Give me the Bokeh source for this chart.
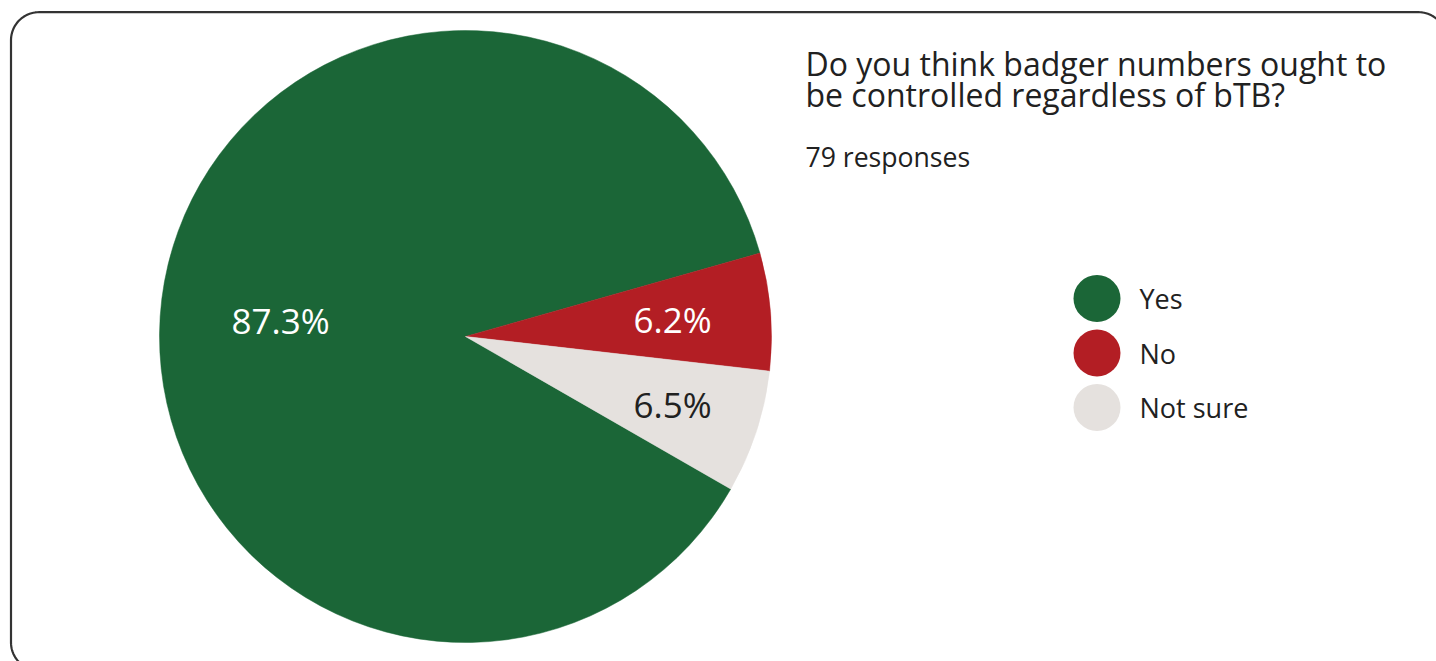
import numpy as np
from bokeh.plotting import figure
from bokeh.models import Range1d
from bokeh.core.properties import value
from bokeh.embed import file_html
from bokeh.resources import INLINE

# ---- data ----
categories = ["Yes", "No", "Not sure"]
percents = [87.3, 6.2, 6.5]
colors = ["#1b6637", "#b31e24", "#e5e1de"]
label_colors = ["#ffffff", "#ffffff", "#212121"]
title_lines = ["Do you think badger numbers ought to", "be controlled regardless of bTB?"]
subtitle = "79 responses"

# ---- layout ----
W, H = 1436, 661
FONT = value("Open Sans")
TXT = "#212121"

p = figure(width=W, height=H, output_backend="svg", toolbar_location=None,
           x_range=Range1d(0, W), y_range=Range1d(0, H), min_border=0)
p.axis.visible = False
p.grid.visible = False
p.outline_line_color = None
p.background_fill_color = "white"
p.border_fill_color = "white"

# rounded border (extends beyond right/bottom edges like the reference)
L, R, T, B, rad = 10.5, 1446.0, 649.3, -9.0, 28.0
def arc(cx, cy, a0, a1):
    t = np.linspace(np.radians(a0), np.radians(a1), 24)
    return cx + rad * np.cos(t), cy + rad * np.sin(t)
xs, ys = [], []
for cx, cy, a0, a1 in [(L + rad, T - rad, 90, 180), (L + rad, B + rad, 180, 270),
                       (R - rad, B + rad, 270, 360), (R - rad, T - rad, 0, 90)]:
    ax, ay = arc(cx, cy, a0, a1)
    xs.extend(ax); ys.extend(ay)
xs.append(xs[0]); ys.append(ys[0])
p.line(xs, ys, line_color="#333333", line_width=2.2)

# pie
cx, cy, r = 465.0, 325.0, 306.0
start_deg = -29.9
frac = np.array(percents) / sum(percents)
cum = np.concatenate([[0], np.cumsum(frac)])
bounds = np.radians(start_deg) - 2 * np.pi * cum
p.wedge(x=cx, y=cy, radius=r, start_angle=bounds[1:], end_angle=bounds[:-1],
        fill_color=colors, line_color=colors, line_width=0.5)

# percent labels
label_x = [280, 672, 672]
label_y = [341, 342.3, 257.3]
p.text(x=label_x, y=label_y, text=[f"{v:.1f}%" for v in percents],
       text_color=label_colors, text_font=FONT, text_font_size="35px",
       text_align="center", text_baseline="alphabetic")

# title & subtitle
p.text(x=[805, 805], y=[598, 567], text=title_lines, text_color=TXT, text_font=FONT,
       text_font_size="32px", text_align="left", text_baseline="alphabetic")
p.text(x=[805], y=[505], text=[subtitle], text_color=TXT, text_font=FONT,
       text_font_size="26.6px", text_align="left", text_baseline="alphabetic")

# legend
leg_x = 1096.5
leg_y = [363 - i * 54.5 for i in range(len(categories))]
p.scatter(x=[leg_x] * len(categories), y=leg_y, size=47, marker="circle",
          fill_color=colors, line_color=None)
p.text(x=[1139] * len(categories), y=leg_y, text=categories,
       text_color=TXT, text_font=FONT, text_font_size="27px",
       text_align="left", text_baseline="alphabetic")

open("out.html", "w").write(file_html(p, INLINE))
